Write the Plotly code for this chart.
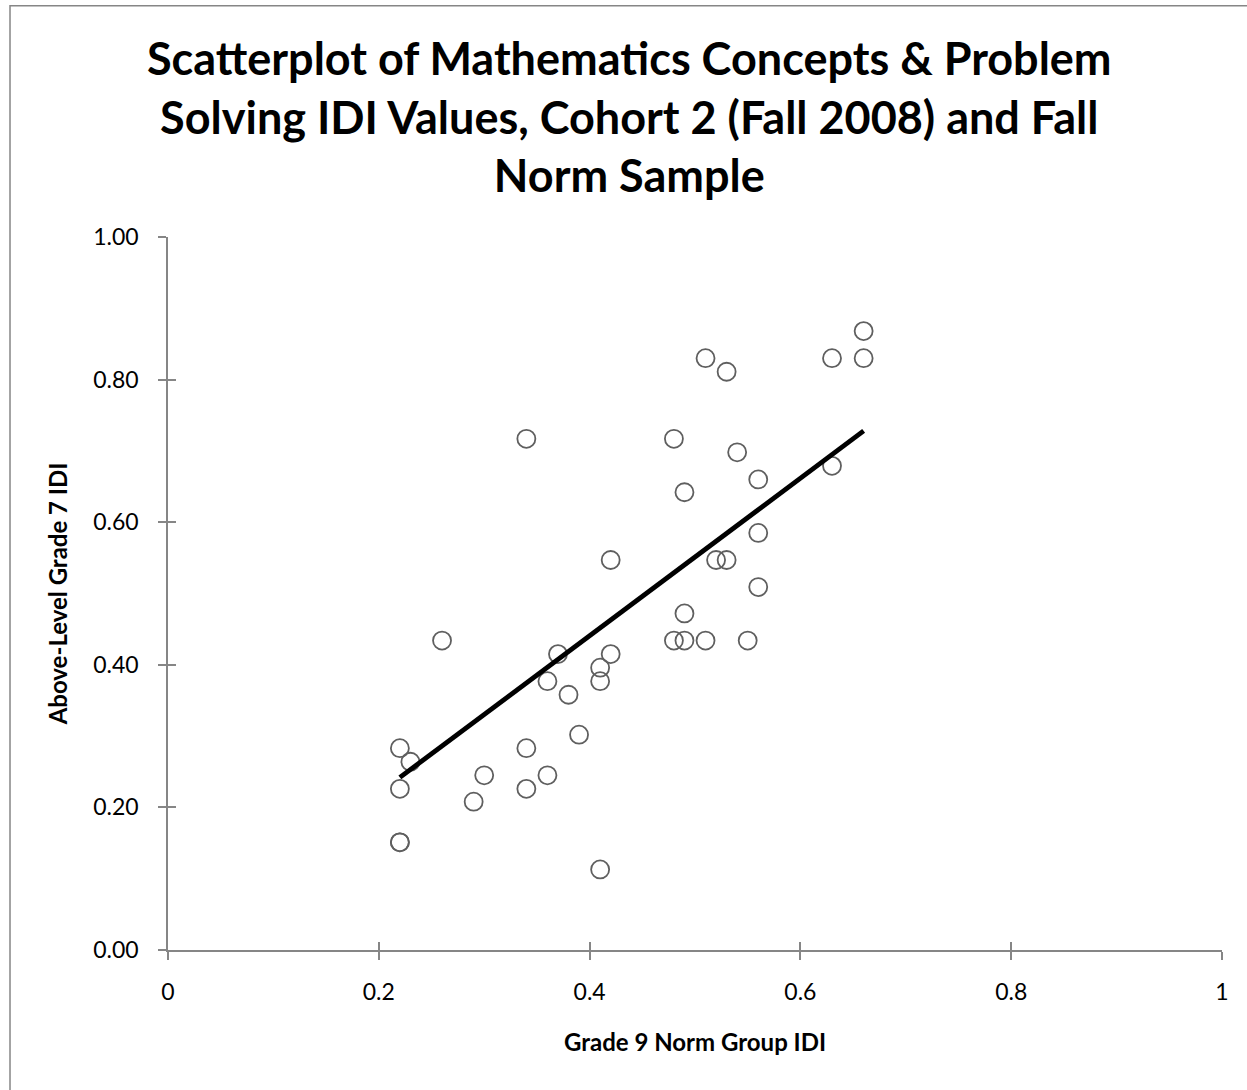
import plotly.graph_objects as go

# Grade 9 norm-group IDI (x) vs above-level grade 7 IDI (y)
norm_idi = [0.66, 0.63, 0.66, 0.51, 0.53, 0.34, 0.48, 0.54, 0.63, 0.56,
            0.49, 0.56, 0.52, 0.53, 0.42, 0.56, 0.49, 0.26, 0.48, 0.49,
            0.51, 0.55, 0.37, 0.42, 0.41, 0.41, 0.36, 0.38, 0.39, 0.22,
            0.34, 0.23, 0.30, 0.36, 0.22, 0.34, 0.29, 0.22, 0.22, 0.41]
above_idi = [0.868, 0.830, 0.830, 0.830, 0.811, 0.717, 0.717, 0.698, 0.679, 0.660,
             0.642, 0.585, 0.547, 0.547, 0.547, 0.509, 0.472, 0.434, 0.434, 0.434,
             0.434, 0.434, 0.415, 0.415, 0.396, 0.377, 0.377, 0.358, 0.302, 0.283,
             0.283, 0.264, 0.245, 0.245, 0.226, 0.226, 0.208, 0.151, 0.151, 0.113]

# Linear trendline end points
trend_x = [0.22, 0.66]
trend_y = [0.242, 0.728]

x_ticks = [0, 0.2, 0.4, 0.6, 0.8, 1]
x_tick_labels = ["0", "0.2", "0.4", "0.6", "0.8", "1"]
y_ticks = [0.0, 0.2, 0.4, 0.6, 0.8, 1.0]
y_tick_labels = ["0.00", "0.20", "0.40", "0.60", "0.80", "1.00"]

title_text = ("<b>Scatterplot of Mathematics Concepts & Problem<br>"
              "Solving IDI Values, Cohort 2 (Fall 2008) and Fall<br>"
              "Norm Sample</b>")

FONT = "Lato"
AXIS_GRAY = "#868686"

fig = go.Figure()

fig.add_trace(go.Scatter(
    x=norm_idi, y=above_idi, mode="markers",
    marker=dict(symbol="circle-open", size=18, color="#5f5f5f",
                line=dict(width=1.8, color="#5f5f5f")),
    showlegend=False, hoverinfo="x+y",
))

fig.add_trace(go.Scatter(
    x=trend_x, y=trend_y, mode="lines",
    line=dict(color="black", width=4.8),
    xaxis="x2", yaxis="y2", showlegend=False,
))

axis_common = dict(showgrid=False, zeroline=False, linecolor=AXIS_GRAY,
                   tickcolor=AXIS_GRAY, tickwidth=1.5, ticklen=8)

fig.update_layout(
    width=1247, height=1090,
    margin=dict(l=168, r=25, t=237, b=140),
    paper_bgcolor="white", plot_bgcolor="white",
    font=dict(family=FONT, color="black"),
    xaxis=dict(range=[0, 1], tickvals=x_ticks, ticktext=x_tick_labels,
               ticks="outside", showline=True, linewidth=1.5,
               ticklabelstandoff=13, tickfont=dict(size=23),
               title=dict(text="<b>Grade 9 Norm Group IDI</b>",
                          font=dict(size=24), standoff=30),
               **axis_common),
    yaxis=dict(range=[0, 1], tickvals=y_ticks, ticktext=y_tick_labels,
               ticks="outside", showline=True, linewidth=1.5,
               ticklabelstandoff=15, tickfont=dict(size=23),
               title=dict(text="<b>Above-Level Grade 7 IDI</b>",
                          font=dict(size=24), standoff=19),
               **axis_common),
    xaxis2=dict(range=[0, 1], overlaying="x", tickvals=x_ticks,
                ticks="inside", showticklabels=False, showline=False,
                **axis_common),
    yaxis2=dict(range=[0, 1], overlaying="y", tickvals=y_ticks,
                ticks="inside", showticklabels=False, showline=False,
                **axis_common),
    annotations=[dict(text=title_text, xref="paper", yref="paper",
                      x=0.4383, y=1.292, xanchor="center", yanchor="top",
                      showarrow=False, align="center",
                      font=dict(family=FONT, size=45, color="black"))],
    shapes=[dict(type="rect", xref="paper", yref="paper",
                 x0=-0.1499, x1=1.1, y0=-0.25, y1=1.3245,
                 line=dict(color=AXIS_GRAY, width=1.5), layer="below")],
)

fig.write_html("out.html")
